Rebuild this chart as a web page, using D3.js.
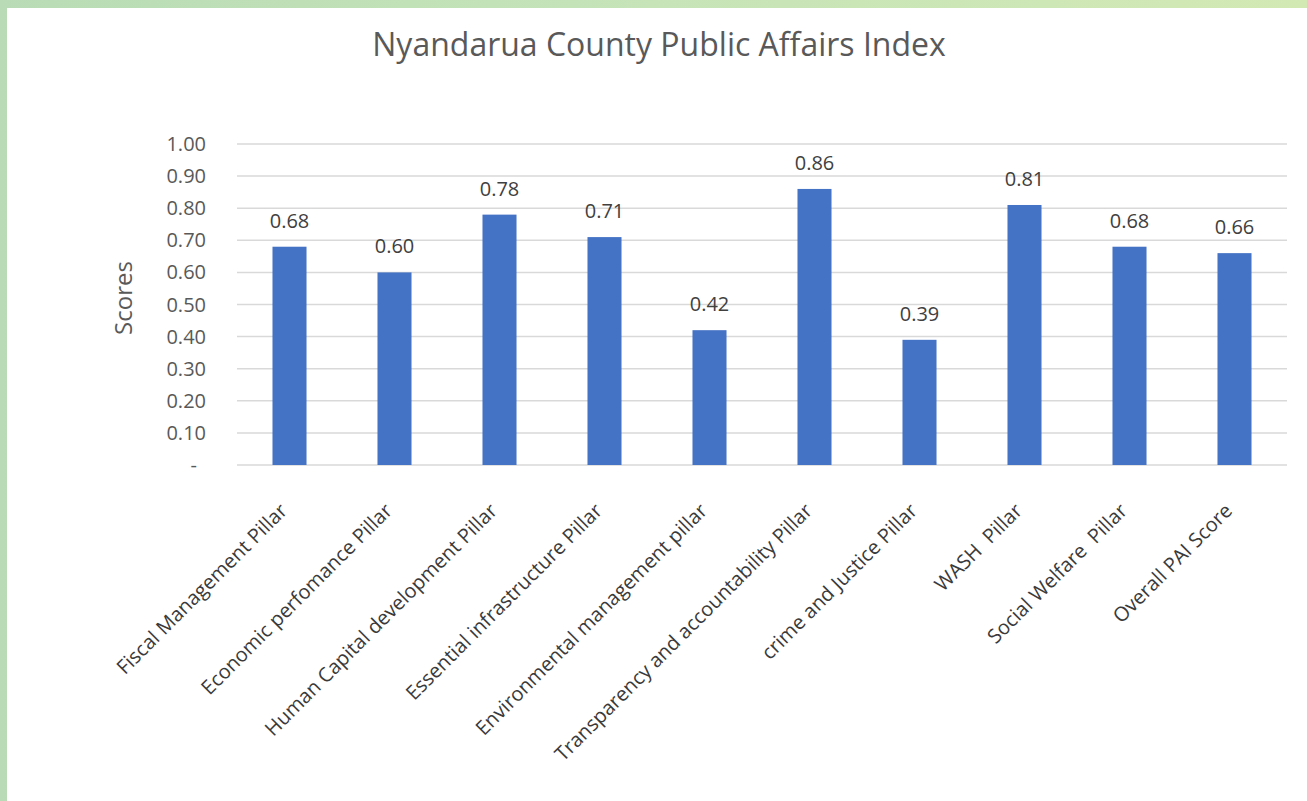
<!DOCTYPE html>
<html>
<head>
<meta charset="utf-8">
<script src="https://cdn.jsdelivr.net/npm/d3@7"></script>
<style>
  html, body { margin: 0; padding: 0; }
  body {
    width: 1307px; height: 801px; overflow: hidden;
    background: linear-gradient(90deg, #b9dcb6 0%, #c6e4b8 50%, #d3e9b4 100%);
  }
  svg { position: absolute; left: 7px; top: 8px; background: #fff; }
  text { font-family: "Open Sans", "Noto Sans", sans-serif; white-space: pre; }
</style>
</head>
<body>
<svg id="chart"></svg>
<script>
// chart data
const categories = [
  "Fiscal Management Pillar",
  "Economic perfomance Pillar",
  "Human Capital development Pillar",
  "Essential infrastructure Pillar",
  "Environmental management pillar",
  "Transparency and accountability Pillar",
  "crime and Justice Pillar",
  "WASH  Pillar",
  "Social Welfare  Pillar",
  "Overall PAI Score"
];
const scores = [0.68, 0.60, 0.78, 0.71, 0.42, 0.86, 0.39, 0.81, 0.68, 0.66];
const yTicks = [0, 0.1, 0.2, 0.3, 0.4, 0.5, 0.6, 0.7, 0.8, 0.9, 1.0];

const width = 1300, height = 793;
const offX = 7, offY = 8; // svg offset inside page
const svg = d3.select("#chart").attr("width", width).attr("height", height);

const x = d3.scaleBand()
    .domain(categories)
    .range([237 - offX, 1287 - offX])
    .paddingInner(0.676)
    .paddingOuter(0.338);

const y = d3.scaleLinear()
    .domain([0, 1])
    .range([465 - offY, 144 - offY]);

// title
svg.append("text")
    .attr("x", 659 - offX)
    .attr("y", 56 - offY)
    .attr("text-anchor", "middle")
    .attr("font-size", 32)
    .attr("fill", "#595959")
    .text("Nyandarua County Public Affairs Index");

// gridlines
svg.append("g")
    .selectAll("line")
    .data(yTicks)
    .join("line")
    .attr("x1", x.range()[0])
    .attr("x2", x.range()[1])
    .attr("y1", d => y(d))
    .attr("y2", d => y(d))
    .attr("stroke", "#d9d9d9")
    .attr("stroke-width", 1.5);

// y tick labels
svg.append("g")
    .selectAll("text")
    .data(yTicks)
    .join("text")
    .attr("x", d => d === 0 ? 197 - offX : 206 - offX)
    .attr("y", d => y(d))
    .attr("dy", "0.35em")
    .attr("text-anchor", "end")
    .attr("font-size", 20)
    .attr("fill", "#595959")
    .text(d => d === 0 ? "-" : d.toFixed(2));

// y axis title
svg.append("text")
    .attr("transform", `translate(${132 - offX},${298 - offY}) rotate(-90)`)
    .attr("text-anchor", "middle")
    .attr("font-size", 24)
    .attr("fill", "#595959")
    .text("Scores");

// bars
svg.append("g")
    .selectAll("rect")
    .data(scores)
    .join("rect")
    .attr("x", (d, i) => x(categories[i]))
    .attr("width", x.bandwidth())
    .attr("y", d => y(d))
    .attr("height", d => y(0) - y(d))
    .attr("fill", "#4472c4");

// value labels
svg.append("g")
    .selectAll("text")
    .data(scores)
    .join("text")
    .attr("x", (d, i) => x(categories[i]) + x.bandwidth() / 2)
    .attr("y", d => y(d) - 19)
    .attr("text-anchor", "middle")
    .attr("font-size", 20)
    .attr("fill", "#404040")
    .text(d => d.toFixed(2));

// category labels, rotated
svg.append("g")
    .selectAll("text")
    .data(categories)
    .join("text")
    .attr("xml:space", "preserve")
    .attr("transform", d => `translate(${x(d) + x.bandwidth() / 2 - 1},${512 - offY}) rotate(-45)`)
    .attr("text-anchor", "end")
    .attr("font-size", 20)
    .attr("fill", "#3a3a3a")
    .text(d => d);
</script>
</body>
</html>
